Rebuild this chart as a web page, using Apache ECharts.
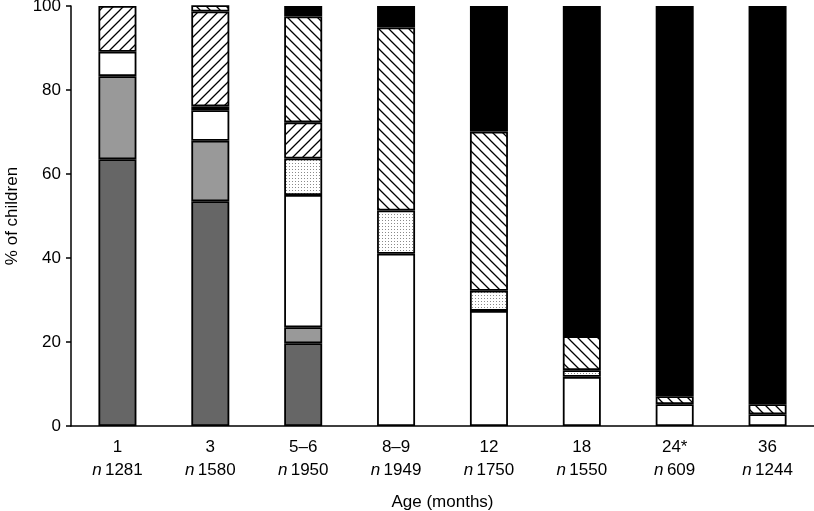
<!DOCTYPE html>
<html>
<head>
<meta charset="utf-8">
<script src="https://cdn.jsdelivr.net/npm/echarts@6/dist/echarts.min.js"></script>
<style>
  html, body { margin: 0; padding: 0; background: #fff; }
  #chart { width: 814px; height: 511px; }
</style>
</head>
<body>
<div id="chart"></div>
<script>
var ages = ['1', '3', '5\u20136', '8\u20139', '12', '18', '24*', '36'];
var nCounts = ['1281', '1580', '1950', '1949', '1750', '1550', '609', '1244'];
var yTicks = [0, 20, 40, 60, 80, 100];

// stacked from bottom to top
var darkGray  = [63.5, 53.5, 19.7, 0, 0, 0, 0, 0];
var lightGray = [19.8, 14.4, 3.8, 0, 0, 0, 0, 0];
var white     = [5.8, 7.3, 31.5, 41.0, 27.4, 11.7, 5.2, 2.8];
var dotted    = [0, 0.9, 8.7, 10.3, 4.8, 1.6, 0, 0];
var fwdHatch  = [10.9, 22.6, 8.6, 0, 0, 0, 0, 0];
var backHatch = [0, 1.5, 25.2, 43.6, 37.9, 8.1, 1.9, 2.4];
var black     = [0, 0, 2.5, 5.1, 29.9, 78.6, 92.9, 94.8];

// pattern tiles
function hatchTile(back) {
    var s = 10;
    var c = document.createElement('canvas');
    c.width = s; c.height = s;
    var ctx = c.getContext('2d');
    ctx.fillStyle = '#fff';
    ctx.fillRect(0, 0, s, s);
    ctx.strokeStyle = '#000';
    ctx.lineWidth = 1.3;
    ctx.beginPath();
    if (back) {
        ctx.moveTo(-2, -2); ctx.lineTo(s + 2, s + 2);
        ctx.moveTo(-2, s - 2); ctx.lineTo(2, s + 2);
        ctx.moveTo(s - 2, -2); ctx.lineTo(s + 2, 2);
    } else {
        ctx.moveTo(-2, s + 2); ctx.lineTo(s + 2, -2);
        ctx.moveTo(-2, 2); ctx.lineTo(2, -2);
        ctx.moveTo(s - 2, s + 2); ctx.lineTo(s + 2, s - 2);
    }
    ctx.stroke();
    return c;
}
function dotTile() {
    var c = document.createElement('canvas');
    c.width = 3; c.height = 3;
    var ctx = c.getContext('2d');
    ctx.fillStyle = '#fff';
    ctx.fillRect(0, 0, 3, 3);
    ctx.fillStyle = '#8a8a8a';
    ctx.fillRect(1, 1, 1, 1);
    return c;
}

var fills = [
    { data: darkGray, color: '#666666' },
    { data: lightGray, color: '#999999' },
    { data: white, color: '#ffffff' },
    { data: dotted, color: { image: dotTile(), repeat: 'repeat' } },
    { data: fwdHatch, color: { image: hatchTile(false), repeat: 'repeat' } },
    { data: backHatch, color: { image: hatchTile(true), repeat: 'repeat' } },
    { data: black, color: '#000000' }
];

var series = fills.map(function (f) {
    return {
        type: 'bar',
        stack: 'total',
        barWidth: 38,
        data: f.data.map(function (v) { return v > 0 ? v : '-'; }),
        itemStyle: {
            color: f.color,
            borderColor: '#000',
            borderWidth: 1.8
        },
        emphasis: { disabled: true },
        silent: true
    };
});

var labels = ages.map(function (a, i) {
    return '{a|' + a + '}\n{i|n} {a|' + nCounts[i] + '}';
});

var font = 'Liberation Sans, Arial, sans-serif';

var option = {
    animation: false,
    backgroundColor: '#fff',
    grid: { left: 71, right: 0, top: 6, bottom: 85, containLabel: false, outerBoundsMode: 'none' },
    xAxis: {
        type: 'category',
        data: labels,
        name: 'Age (months)',
        nameLocation: 'middle',
        nameGap: 68,
        nameTextStyle: { color: '#000', fontSize: 17, fontFamily: font },
        axisLine: { lineStyle: { color: '#000', width: 1.5 } },
        axisTick: { inside: true, length: 5, lineStyle: { color: '#000', width: 1.5 } },
        axisLabel: {
            margin: 10,
            interval: 0,
            color: '#000',
            lineHeight: 23,
            rich: {
                a: { fontSize: 17, fontFamily: font, color: '#000', lineHeight: 23 },
                i: { fontSize: 17, fontFamily: font, fontStyle: 'italic', color: '#000', lineHeight: 23 }
            }
        }
    },
    yAxis: {
        type: 'value',
        min: yTicks[0],
        max: yTicks[yTicks.length - 1],
        interval: yTicks[1] - yTicks[0],
        name: '% of children',
        nameLocation: 'middle',
        nameGap: 50,
        nameRotate: 90,
        nameTextStyle: { color: '#000', fontSize: 17, fontFamily: font },
        axisLine: { show: true, lineStyle: { color: '#000', width: 1.5 } },
        axisTick: { show: true, length: 5, lineStyle: { color: '#000', width: 1.5 } },
        axisLabel: { margin: 10, color: '#000', fontSize: 17, fontFamily: font },
        splitLine: { show: false }
    },
    series: series
};

var myChart = echarts.init(document.getElementById('chart'));
myChart.setOption(option);
window.addEventListener('resize', function () {
    myChart.resize();
});
</script>
</body>
</html>
